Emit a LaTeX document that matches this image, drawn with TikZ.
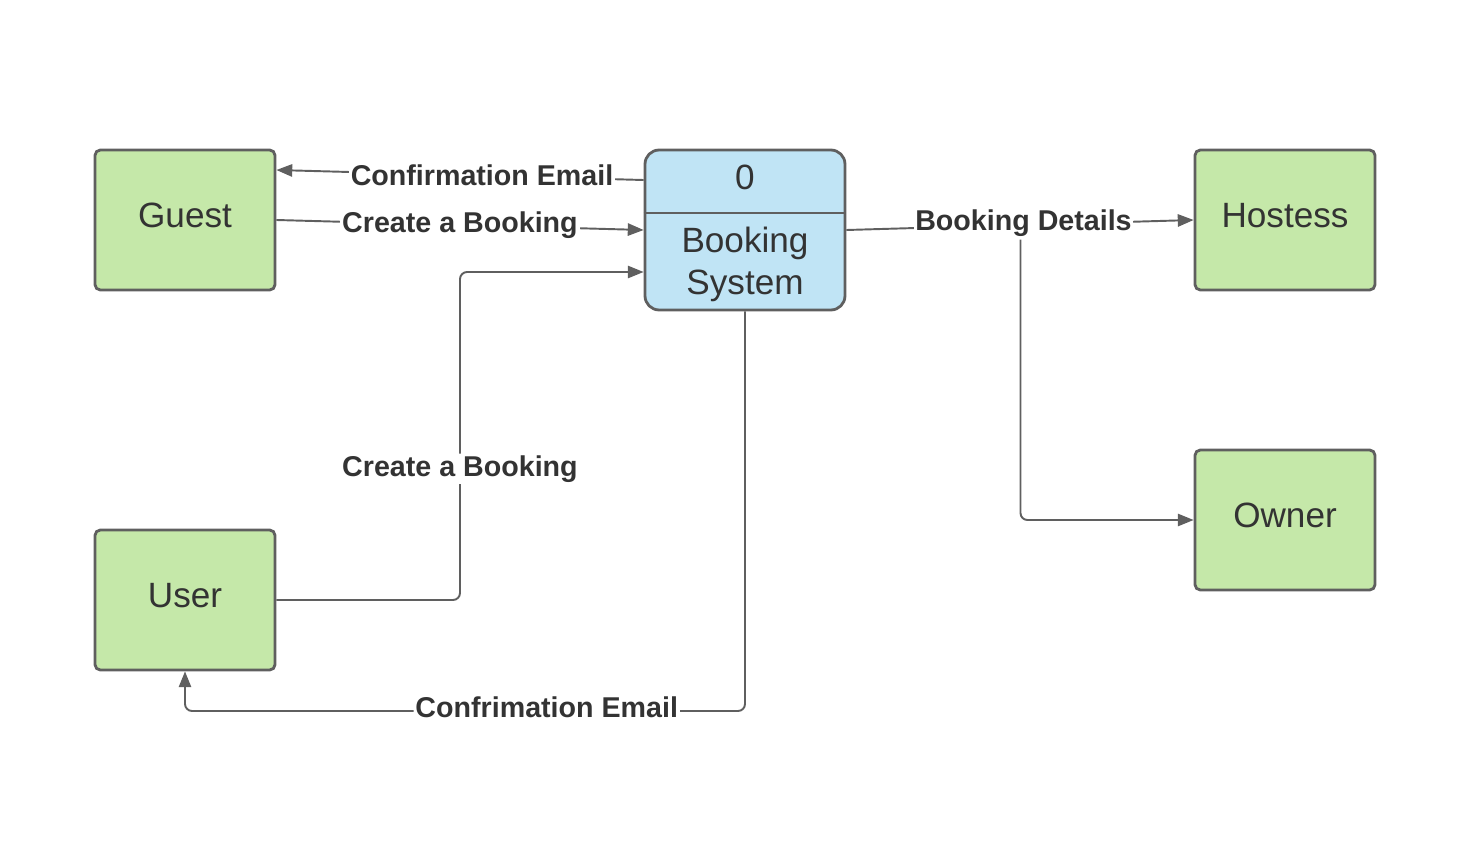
\documentclass[tikz,border=0pt]{standalone}
\usepackage{fontspec}
\setmainfont{Liberation Sans}
\usepackage{xcolor}
\usetikzlibrary{arrows.meta}

\definecolor{boxgreen}{HTML}{C5E8A9}
\definecolor{boxblue}{HTML}{C0E4F5}
\definecolor{edgegray}{HTML}{5F5F5F}
\definecolor{inkgray}{HTML}{333333}

\begin{document}
\begin{tikzpicture}[x=0.02cm, y=-0.02cm,
  box/.style={rectangle, draw=edgegray, line width=1.6pt, fill=boxgreen, rounded corners=3pt, minimum width=3.6cm, minimum height=2.8cm, font=\fontsize{20}{24}\selectfont, text=inkgray, text height=14.5pt, text depth=5.7pt},
  procbox/.style={rectangle, draw=edgegray, line width=1.6pt, fill=boxblue, rounded corners=8pt, minimum width=4cm, minimum height=3.2cm},
  arrow/.style={->, >={Triangle[length=9pt, width=7pt]}, draw=edgegray, line width=1.1pt},
  lbl/.style={font=\fontsize{16.3}{19}\selectfont\bfseries, text=inkgray, fill=white, inner sep=1pt}
]
\useasboundingbox (0,0) rectangle (1471,865);

% External entities
\node[box] (guest) at (185,220) {Guest};
\node[box] (user) at (185,600) {User};
\node[box] (hostess) at (1285,220) {Hostess};
\node[box] (owner) at (1285,520) {Owner};

% Process
\node[procbox] (sys) at (745,230) {};
\draw[edgegray, line width=1.6pt] (sys.west |- 0,213) -- (sys.east |- 0,213);
\node[font=\fontsize{20}{24}\selectfont, text=inkgray] (sysid) at (745,177) {0};
\node[font=\fontsize{20}{24}\selectfont, text=inkgray, align=center] (sysname) at (745,264) {Booking\\System};

% Bends
\coordinate (userturn) at (460,272);
\coordinate (mailturn) at (185,711);

% Flows
\draw[arrow] ([yshift=1cm]sys.west) -- node[lbl, pos=0.44] {Confirmation Email} ([yshift=1cm]guest.east);
\draw[arrow] (guest.east) -- node[lbl, pos=0.5] {Create a Booking} (sys.west);
\draw[arrow, rounded corners=4pt] (user.east) -| node[lbl, pos=0.70] {Create a Booking} (userturn) -- (sys.west |- userturn);
\draw[arrow, rounded corners=4pt] (sys.south) |- node[lbl, pos=0.677, yshift=0.07cm] {Confrimation Email} (mailturn) -- (user.south);
\draw[arrow] (sys.east) -- node[lbl, pos=0.51, yshift=0.03cm] (details) {Booking Details} (hostess.west);
\draw[arrow, rounded corners=4pt] ([xshift=-0.06cm]details.south) |- (owner.west);

\end{tikzpicture}
\end{document}
